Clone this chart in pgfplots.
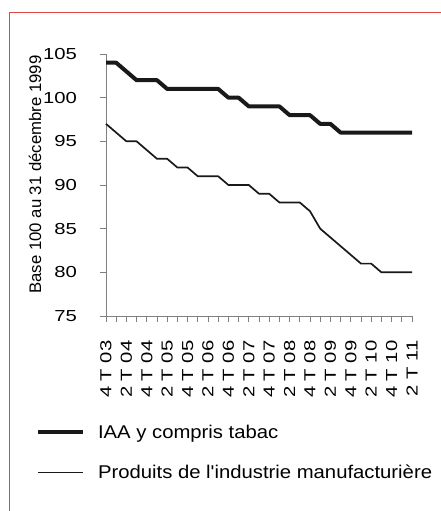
\documentclass[border=0pt]{standalone}
\usepackage{fontspec}
\setmainfont{Liberation Sans}
\newfontfamily\tickfont[FakeStretch=1.27]{Liberation Sans}
\newfontfamily\legfont[FakeStretch=1.1]{Liberation Sans}
\usepackage{pgfplots}
\pgfplotsset{compat=1.18}
\definecolor{framecol}{RGB}{220,70,70}
\definecolor{axgray}{RGB}{128,128,128}
\definecolor{inkcol}{RGB}{25,25,25}
\begin{document}
\begin{tikzpicture}
\path[use as bounding box] (0,0) rectangle (441bp,-511bp);
\draw[framecol, line width=1.2bp] (9.6bp,-530bp) -- (9.6bp,-12.6bp) -- (460bp,-12.6bp);
\begin{axis}[
 at={(106bp,-316bp)}, anchor=south west,
 scale only axis, width=306bp, height=262bp,
 xmin=0, xmax=30, ymin=75, ymax=105,
 axis lines=left, axis line style={-, axgray, line width=1bp},
 xtick={0,2,...,30}, minor xtick={1,3,...,29},
 xticklabels={4 T 03,2 T 04,4 T 04,2 T 05,4 T 05,2 T 06,4 T 06,2 T 07,4 T 07,2 T 08,4 T 08,2 T 09,4 T 09,2 T 10,4 T 10,2 T 11},
 ytick={75,80,...,105},
 tick align=outside, major tick length=6bp, minor tick length=6bp,
 tick style={axgray, line width=0.8bp},
 minor tick style={axgray, line width=0.8bp},
 /pgf/number format/assume math mode=true,
 yticklabel style={font=\tickfont\fontsize{16}{18}\selectfont, xshift=-19.5bp},
 xticklabel shift=15bp,
 xticklabel style={font=\tickfont\fontsize{16}{18}\selectfont, rotate=90, anchor=east},
 ylabel={Base 100 au 31 décembre 1999},
 ylabel style={font=\fontsize{16.8}{19}\selectfont, at={(axis description cs:-0.232,0.54)}, anchor=center},
 legend style={at={(axis description cs:-0.239,-0.40)}, anchor=north west, draw=none, fill=none,
   font=\legfont\fontsize{18.5}{20}\selectfont, row sep=21bp},
 legend cell align=left,
 legend image code/.code={\draw[#1] (0bp,0bp) -- (45bp,0bp);},
 /tikz/every odd column/.append style={column sep=11bp},
 clip=false,
]
\addplot[inkcol, line width=4bp, line join=round] coordinates {
(0,104)(1,104)(2,103)(3,102)(4,102)(5,102)(6,101)(7,101)(8,101)(9,101)(10,101)
(11,101)(12,100)(13,100)(14,99)(15,99)(16,99)(17,99)(18,98)(19,98)(20,98)
(21,97)(22,97)(23,96)(24,96)(25,96)(26,96)(27,96)(28,96)(29,96)(30,96)};
\addlegendentry{IAA y compris tabac}
\addplot[inkcol, line width=1.7bp, line join=round] coordinates {
(0,97)(1,96)(2,95)(3,95)(4,94)(5,93)(6,93)(7,92)(8,92)(9,91)(10,91)
(11,91)(12,90)(13,90)(14,90)(15,89)(16,89)(17,88)(18,88)(19,88)(20,87)
(21,85)(22,84)(23,83)(24,82)(25,81)(26,81)(27,80)(28,80)(29,80)(30,80)};
\addlegendentry{Produits de l'industrie manufacturière}
\end{axis}
\end{tikzpicture}
\end{document}
